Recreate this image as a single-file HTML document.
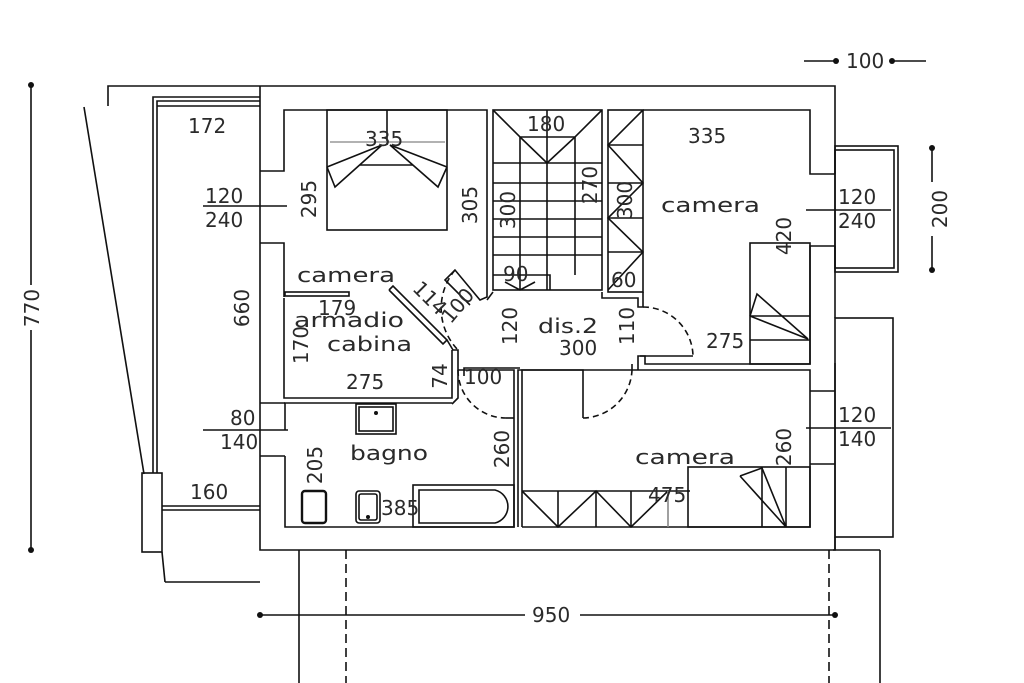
<!DOCTYPE html>
<html><head><meta charset="utf-8"><style>
html,body{margin:0;padding:0;background:#fff}
svg{display:block}
text{font-family:"DejaVu Sans","Liberation Sans",sans-serif;fill:#2a2a2a;font-size:20px}
</style></head><body>
<svg width="1024" height="683" viewBox="0 0 1024 683" xmlns="http://www.w3.org/2000/svg">
<g fill="none" stroke="#111" stroke-width="1.6">
<polyline points="260,86 108,86 108,106"/>
<line x1="84" y1="107" x2="144" y2="474"/>
<line x1="162" y1="552" x2="165" y2="582"/>
<line x1="165" y1="582" x2="260" y2="582"/>
<polyline points="153,473 153,97 260,97"/>
<polyline points="157,473 157,101 260,101"/>
<line x1="157" y1="106" x2="260" y2="106"/>
<rect x="142" y="473" width="20" height="79"/>
<line x1="162" y1="506" x2="260" y2="506"/><line x1="162" y1="510" x2="260" y2="510"/>
<polyline points="260,86 835,86 835,174"/>
<polyline points="835,246 835,318"/>
<polyline points="835,537 835,550 260,550 260,86"/>
<line x1="835" y1="363" x2="835" y2="550"/>
<polyline points="284,297 284,243 260,243"/>
<polyline points="260,171 284,171 284,110 487,110 487,297 480,300 455,270 445,280 470,305"/>
<line x1="260" y1="206" x2="287" y2="206"/>
<rect x="327" y="110" width="120" height="120"/>
<line x1="387" y1="110" x2="387" y2="145"/>
<line x1="330" y1="142" x2="445" y2="142" stroke="#999"/>
<polyline points="327,167 335,187 382,145 327,167"/>
<polyline points="447,167 438,187 390,145 447,167"/>
<line x1="360" y1="165" x2="413" y2="165"/>
<rect x="285" y="292" width="64" height="4"/>
<polyline points="284,298 284,398 452,398 452,350"/>
<polyline points="389,290 393,286 447,340 443,344 389,290"/>
<polyline points="447,340 453,350 458,350 458,398 452,404"/>
<line x1="284" y1="403" x2="452" y2="403"/>
<line x1="260" y1="403" x2="285" y2="403"/>
<line x1="260" y1="456" x2="285" y2="456"/>
<line x1="203" y1="430" x2="288" y2="430"/>
<path d="M455,270 A60,60 0 0 0 458,350" stroke-dasharray="6,4"/>
<rect x="493" y="110" width="109" height="180"/>
<polyline points="493,110 520,137 575,137 602,110"/>
<polyline points="520,137 547,163 575,137"/>
<line x1="520" y1="137" x2="520" y2="290"/><line x1="547" y1="110" x2="547" y2="290"/><line x1="575" y1="137" x2="575" y2="275"/>
<line x1="493" y1="163" x2="602" y2="163"/><line x1="493" y1="183" x2="602" y2="183"/><line x1="493" y1="201" x2="602" y2="201"/><line x1="493" y1="219" x2="602" y2="219"/><line x1="493" y1="237" x2="602" y2="237"/><line x1="493" y1="255" x2="602" y2="255"/>
<polyline points="493,275 550,275 550,290"/>
<polyline points="520,290 505,282"/><polyline points="520,290 535,282"/>
<line x1="487" y1="300" x2="493" y2="292"/>
<rect x="608" y="110" width="35" height="182"/>
<polyline points="643,110 608,145 643,183 608,218 643,252 608,290"/>
<line x1="608" y1="145" x2="643" y2="145"/><line x1="608" y1="183" x2="643" y2="183"/><line x1="608" y1="218" x2="643" y2="218"/><line x1="608" y1="252" x2="643" y2="252"/>
<polyline points="602,292 602,298 638,298 638,307 643,307 643,292"/>
<polyline points="643,110 810,110 810,174 835,174"/>
<polyline points="835,246 810,246 810,364 645,364 645,356 638,356 638,370"/>
<line x1="640" y1="356" x2="693" y2="356"/>
<path d="M643,307 A50,50 0 0 1 693,356" stroke-dasharray="6,4"/>
<rect x="750" y="243" width="60" height="121"/>
<line x1="750" y1="316" x2="810" y2="316"/><line x1="750" y1="340" x2="810" y2="340"/>
<polyline points="750,316 757,294 808,339 750,316"/>
<rect x="835" y="146" width="63" height="126"/>
<rect x="835" y="150" width="59" height="118"/>
<line x1="806" y1="210" x2="891" y2="210"/>
<polyline points="458,370 514,370 514,527 285,527 285,456"/>
<polyline points="464,376 464,368 520,368"/>
<line x1="285" y1="403" x2="285" y2="430"/>
<polyline points="518,440 518,370 583,370 583,418"/>
<path d="M583,418 A50,50 0 0 0 632,370" stroke-dasharray="6,4"/>
<path d="M458,370 A48,48 0 0 0 506,418" stroke-dasharray="6,4"/>
<line x1="506" y1="418" x2="514" y2="418"/>
<polyline points="632,370 632,364"/>
<polyline points="522,527 522,370 810,370 810,527 522,527"/>
<polyline points="518,440 518,527"/>
<rect x="356" y="404" width="40" height="30"/><rect x="359" y="407" width="34" height="24"/>
<rect x="302" y="491" width="24" height="32" rx="3" stroke-width="2.4"/>
<rect x="356" y="491" width="24" height="32" rx="3"/><rect x="359" y="494" width="18" height="26" rx="2"/>
<rect x="413" y="485" width="101" height="42"/>
<path d="M419,490 H495 A17,17 0 0 1 495,523 H419 Z"/>
<line x1="522" y1="491" x2="690" y2="491"/>
<line x1="558" y1="491" x2="558" y2="527"/><line x1="596" y1="491" x2="596" y2="527"/><line x1="631" y1="491" x2="631" y2="527"/>
<polyline points="522,491 558,527 596,491 631,527 668,491"/>
<line x1="668" y1="491" x2="668" y2="527" stroke="#888"/>
<rect x="688" y="467" width="122" height="60"/>
<line x1="762" y1="467" x2="762" y2="527"/><line x1="786" y1="467" x2="786" y2="527"/>
<polyline points="740,476 762,468 786,527 740,476"/>
<line x1="810" y1="391" x2="835" y2="391"/><line x1="810" y1="464" x2="835" y2="464"/>
<line x1="806" y1="428" x2="891" y2="428"/>
<rect x="835" y="318" width="58" height="219"/>
<line x1="299" y1="550" x2="299" y2="683"/><line x1="880" y1="550" x2="880" y2="683"/>
<line x1="833" y1="550" x2="880" y2="550"/>
<line x1="346" y1="550" x2="346" y2="683" stroke-dasharray="9,5"/>
<line x1="829" y1="550" x2="829" y2="683" stroke-dasharray="9,5"/>
<line x1="31" y1="85" x2="31" y2="285"/><line x1="31" y1="330" x2="31" y2="550"/>
<line x1="260" y1="615" x2="525" y2="615"/><line x1="580" y1="615" x2="835" y2="615"/>
<line x1="804" y1="61" x2="836" y2="61"/><line x1="892" y1="61" x2="926" y2="61"/>
<line x1="932" y1="148" x2="932" y2="182"/><line x1="932" y1="236" x2="932" y2="270"/>
<line x1="203" y1="206" x2="260" y2="206"/>
</g>
<g fill="#111">
<circle cx="31" cy="85" r="3"/><circle cx="31" cy="550" r="3"/>
<circle cx="260" cy="615" r="3"/><circle cx="835" cy="615" r="3"/>
<circle cx="836" cy="61" r="3"/><circle cx="892" cy="61" r="3"/>
<circle cx="932" cy="148" r="3"/><circle cx="932" cy="270" r="3"/>
<circle cx="376" cy="413" r="2"/><circle cx="368" cy="517" r="2"/>
</g>
<text x="188" y="133">172</text>
<text x="205" y="203">120</text><text x="205" y="227">240</text>
<text x="230" y="425">80</text><text x="220" y="449">140</text>
<text x="190" y="499">160</text>
<text x="365" y="146">335</text>
<text x="297" y="282" textLength="98" lengthAdjust="spacingAndGlyphs">camera</text>
<text x="318" y="315">179</text>
<text x="294" y="327" textLength="110" lengthAdjust="spacingAndGlyphs">armadio</text>
<text x="327" y="351" textLength="85" lengthAdjust="spacingAndGlyphs">cabina</text>
<text x="346" y="389">275</text>
<text x="350" y="460" textLength="78" lengthAdjust="spacingAndGlyphs">bagno</text>
<text x="381" y="515">385</text>
<text x="527" y="131">180</text>
<text x="503" y="281">90</text>
<text x="611" y="287">60</text>
<text x="688" y="143">335</text>
<text x="661" y="212" textLength="99" lengthAdjust="spacingAndGlyphs">camera</text>
<text x="706" y="348">275</text>
<text x="538" y="333" textLength="60" lengthAdjust="spacingAndGlyphs">dis.2</text>
<text x="559" y="355">300</text>
<text x="464" y="384">100</text>
<text x="635" y="464" textLength="100" lengthAdjust="spacingAndGlyphs">camera</text>
<text x="648" y="502">475</text>
<text x="838" y="204">120</text><text x="838" y="228">240</text>
<text x="838" y="422">120</text><text x="838" y="446">140</text>
<text x="532" y="622">950</text>
<text x="846" y="68">100</text>
<g>
<text transform="translate(39,308) rotate(-90)" text-anchor="middle">770</text>
<text transform="translate(947,209) rotate(-90)" text-anchor="middle">200</text>
<text transform="translate(249,308) rotate(-90)" text-anchor="middle">660</text>
<text transform="translate(316,199) rotate(-90)" text-anchor="middle">295</text>
<text transform="translate(477,205) rotate(-90)" text-anchor="middle">305</text>
<text transform="translate(515,210) rotate(-90)" text-anchor="middle">300</text>
<text transform="translate(597,185) rotate(-90)" text-anchor="middle">270</text>
<text transform="translate(632,200) rotate(-90)" text-anchor="middle">300</text>
<text transform="translate(791,236) rotate(-90)" text-anchor="middle">420</text>
<text transform="translate(517,326) rotate(-90)" text-anchor="middle">120</text>
<text transform="translate(634,326) rotate(-90)" text-anchor="middle">110</text>
<text transform="translate(308,345) rotate(-90)" text-anchor="middle">170</text>
<text transform="translate(447,376) rotate(-90)" text-anchor="middle">74</text>
<text transform="translate(509,449) rotate(-90)" text-anchor="middle">260</text>
<text transform="translate(322,465) rotate(-90)" text-anchor="middle">205</text>
<text transform="translate(791,447) rotate(-90)" text-anchor="middle">260</text>
<text transform="translate(425,303) rotate(45)" text-anchor="middle">114</text>
<text transform="translate(463,310) rotate(-50)" text-anchor="middle">100</text>
</g>
</svg>
</body></html>
